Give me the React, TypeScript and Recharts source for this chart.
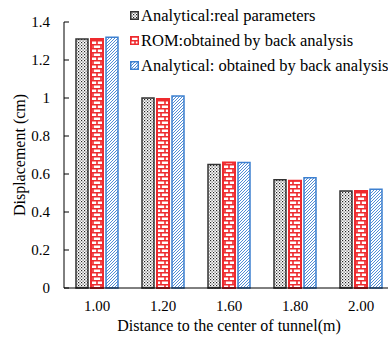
import { BarChart, Bar, XAxis, YAxis } from 'recharts';

const categories = ['1.00', '1.20', '1.60', '1.80', '2.00'];
const realParams = [1.31, 1.0, 0.65, 0.57, 0.51];
const romBack = [1.31, 0.995, 0.66, 0.565, 0.51];
const analyticalBack = [1.32, 1.01, 0.66, 0.58, 0.52];
const yTicks = [0, 0.2, 0.4, 0.6, 0.8, 1, 1.2, 1.4];

const SERIES = [
  { key: 'real', name: 'Analytical:real parameters', fill: 'url(#dots)', stroke: '#333333', strokeWidth: 1.5 },
  { key: 'rom', name: 'ROM:obtained by back analysis', fill: 'url(#bricks)', stroke: '#ee2a2e', strokeWidth: 2 },
  { key: 'back', name: 'Analytical: obtained by back analysis', fill: 'url(#hatch)', stroke: '#3d80d0', strokeWidth: 1.5 },
];

const data = categories.map((x, i) => ({
  x,
  real: realParams[i],
  rom: romBack[i],
  back: analyticalBack[i],
}));

const FONT = '"Liberation Serif", "Times New Roman", serif';

const renderYTick = (props: any) => {
  const { x, y, payload } = props;
  return (
    <g>
      <line x1={x + 14} x2={x + 19} y1={y} y2={y} stroke="#000" strokeWidth={1} />
      <text x={x} y={y} dy={5} textAnchor="end" fill="#000" fontSize={15} fontFamily={FONT}>
        {payload.value}
      </text>
    </g>
  );
};

// legend drawn as an overlay so it does not take space from the plot
const ChartLegend = () => (
  <div style={{ position: 'absolute', left: 130, top: 3, fontFamily: FONT, fontSize: 16.5, color: '#000' }}>
    {SERIES.map((s) => (
      <div key={s.key} style={{ display: 'flex', alignItems: 'center', height: 25, whiteSpace: 'nowrap' }}>
        <svg width={9} height={9} style={{ marginRight: 2 }}>
          <rect x={0.75} y={0.75} width={7.5} height={7.5} fill={s.fill} stroke={s.stroke} strokeWidth={1.5} />
        </svg>
        <span>{s.name}</span>
      </div>
    ))}
  </div>
);

export default function App() {
  return (
    <div style={{ position: 'absolute', left: 0, top: 0, width: 388, height: 339, overflow: 'hidden', background: '#fff' }}>
      <BarChart
        width={400}
        height={339}
        data={data}
        margin={{ top: 22, right: 6, bottom: 0, left: 0 }}
        barSize={12}
        barGap={3}
      >
        <defs>
          <pattern id="dots" patternUnits="userSpaceOnUse" width={3} height={3}>
            <rect width={3} height={3} fill="#fff" />
            <rect x={0} y={0} width={1.2} height={1.2} fill="#222" />
            <rect x={1.5} y={1.5} width={1.2} height={1.2} fill="#555" />
          </pattern>
          <pattern id="bricks" patternUnits="userSpaceOnUse" width={8} height={8}>
            <rect width={8} height={8} fill="#fff" />
            <path d="M0,0.75 H8 M0,4.75 H8 M1,0 V4.75 M5,4.75 V8" stroke="#ee2a2e" strokeWidth={1.6} />
          </pattern>
          <pattern id="hatch" patternUnits="userSpaceOnUse" width={3} height={3}>
            <rect width={3} height={3} fill="#fff" />
            <path d="M-1,1 L1,-1 M0,3 L3,0 M2,4 L4,2" stroke="#3d80d0" strokeWidth={0.9} />
          </pattern>
        </defs>
        <XAxis
          dataKey="x"
          tickLine={false}
          tickSize={0}
          tickMargin={12}
          height={51}
          axisLine={{ stroke: '#000', strokeWidth: 1 }}
          tick={{ fill: '#000', fontSize: 15, fontFamily: FONT }}
          label={{ value: 'Distance to the center of tunnel(m)', position: 'insideBottom', offset: 8, fill: '#000', fontSize: 16, fontFamily: FONT }}
        />
        <YAxis
          width={64}
          domain={[0, 1.4]}
          ticks={yTicks}
          interval={0}
          tickLine={false}
          tickSize={0}
          tickMargin={14}
          axisLine={{ stroke: '#000', strokeWidth: 1 }}
          tick={renderYTick}
          label={{ value: 'Displacement (cm)', angle: -90, position: 'center', dx: -13, fill: '#000', fontSize: 16, fontFamily: FONT }}
        />
        {SERIES.map((s) => (
          <Bar
            key={s.key}
            dataKey={s.key}
            name={s.name}
            fill={s.fill}
            stroke={s.stroke}
            strokeWidth={s.strokeWidth}
            isAnimationActive={false}
          />
        ))}
      </BarChart>
      <ChartLegend />
    </div>
  );
}
